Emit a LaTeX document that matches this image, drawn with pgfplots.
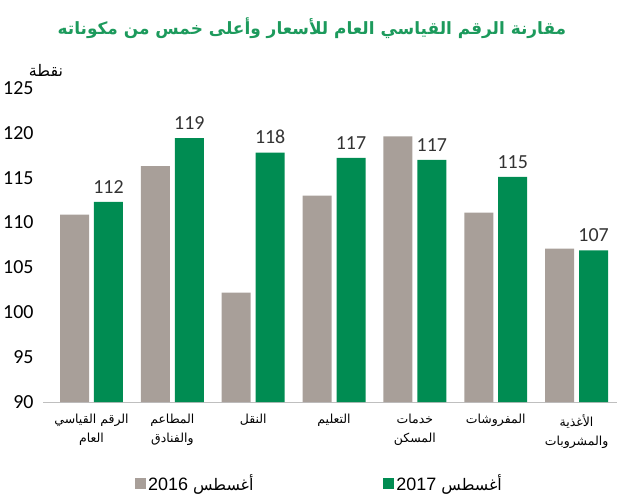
\documentclass[border=0pt]{standalone}
\usepackage{pgfplots}
\pgfplotsset{compat=1.18}
\usepackage{pgfplotstable}
\usepackage{fontspec}
\setmainfont{Liberation Sans}
\newfontfamily\arabicfont[Script=Arabic]{DejaVu Sans}
\newfontfamily\calfont{Carlito}
\TeXXeTstate=1
\definecolor{grayb}{HTML}{A89F99}
\definecolor{greenb}{HTML}{008C52}
\definecolor{titlegreen}{HTML}{1C9A5C}
\definecolor{axisgray}{HTML}{BFBFBF}

\pgfplotstableread{
x y2016 y2017 lab
0 110.9 112.3 112
1 116.3 119.4 119
2 102.2 117.8 118
3 113.0 117.2 117
4 119.6 117.0 117
5 111.1 115.1 115
6 107.1 106.9 107
}\data

\begin{document}
\begin{tikzpicture}
\path[use as bounding box] (0,0) rectangle (620bp,-500bp);
\node[text=titlegreen, font=\arabicfont\bfseries\fontsize{17}{20}\selectfont] at (312bp,-28bp) {\beginR مقارنة الرقم القياسي العام للأسعار وأعلى خمس من مكوناته\endR};
\node[font=\arabicfont\fontsize{16}{18}\selectfont] at (46bp,-70bp) {\beginR نقطة\endR};
\begin{axis}[
  at={(43bp,-402bp)}, anchor=south west,
  scale only axis, width=574bp, height=314bp,
  xmin=-0.6, xmax=6.5, ymin=90, ymax=125,
  ytick={90,95,...,125},
  axis x line*=bottom, axis y line*=left,
  y axis line style={draw=none},
  x axis line style={draw=axisgray, line width=1pt, -},
  major tick style={draw=none},
  yticklabel style={font=\calfont\fontsize{20}{22}\selectfont, xshift=-6bp},
  /pgf/number format/assume math mode=true,
  xtick={0,...,6},
  xticklabels={
    {\beginR الرقم القياسي\endR\\\beginR العام\endR},
    {\beginR المطاعم\endR\\\beginR والفنادق\endR},
    {\beginR النقل\endR},
    {\beginR التعليم\endR},
    {\beginR خدمات\endR\\\beginR المسكن\endR},
    {\beginR المفروشات\endR},
    {\beginR الأغذية\endR\\\beginR والمشروبات\endR}},
  xticklabel style={font=\arabicfont\fontsize{12.5}{19}\selectfont, align=center, anchor=north, yshift=-9bp},
  legend columns=2,
  legend style={draw=none, at={(0.155,-0.26)}, anchor=west,
    font=\fontsize{18}{20}\selectfont,
    /tikz/every even column/.append style={column sep=128bp}},
  legend image code/.code={\path[#1] (0bp,-5bp) rectangle (11bp,6bp);},
]
\addplot[fill=grayb, draw=none, ybar, bar width=29bp, bar shift=0pt]
  table[x expr=\thisrow{x}-0.21, y=y2016]{\data};
\addlegendentry{{\arabicfont\fontsize{16}{20}\selectfont\beginR أغسطس \beginL\rmfamily\fontsize{18}{20}\selectfont 2016\endL\endR}}
\addplot[fill=greenb, draw=none, ybar, bar width=29bp, bar shift=0pt,
  nodes near coords, point meta=explicit symbolic,
  every node near coord/.append style={font=\calfont\fontsize{20}{22}\selectfont, text=black!80, yshift=5bp}]
  table[x expr=\thisrow{x}+0.21, y=y2017, meta=lab]{\data};
\addlegendentry{{\arabicfont\fontsize{16}{20}\selectfont\beginR أغسطس \beginL\rmfamily\fontsize{18}{20}\selectfont 2017\endL\endR}}
\end{axis}
\end{tikzpicture}
\end{document}
